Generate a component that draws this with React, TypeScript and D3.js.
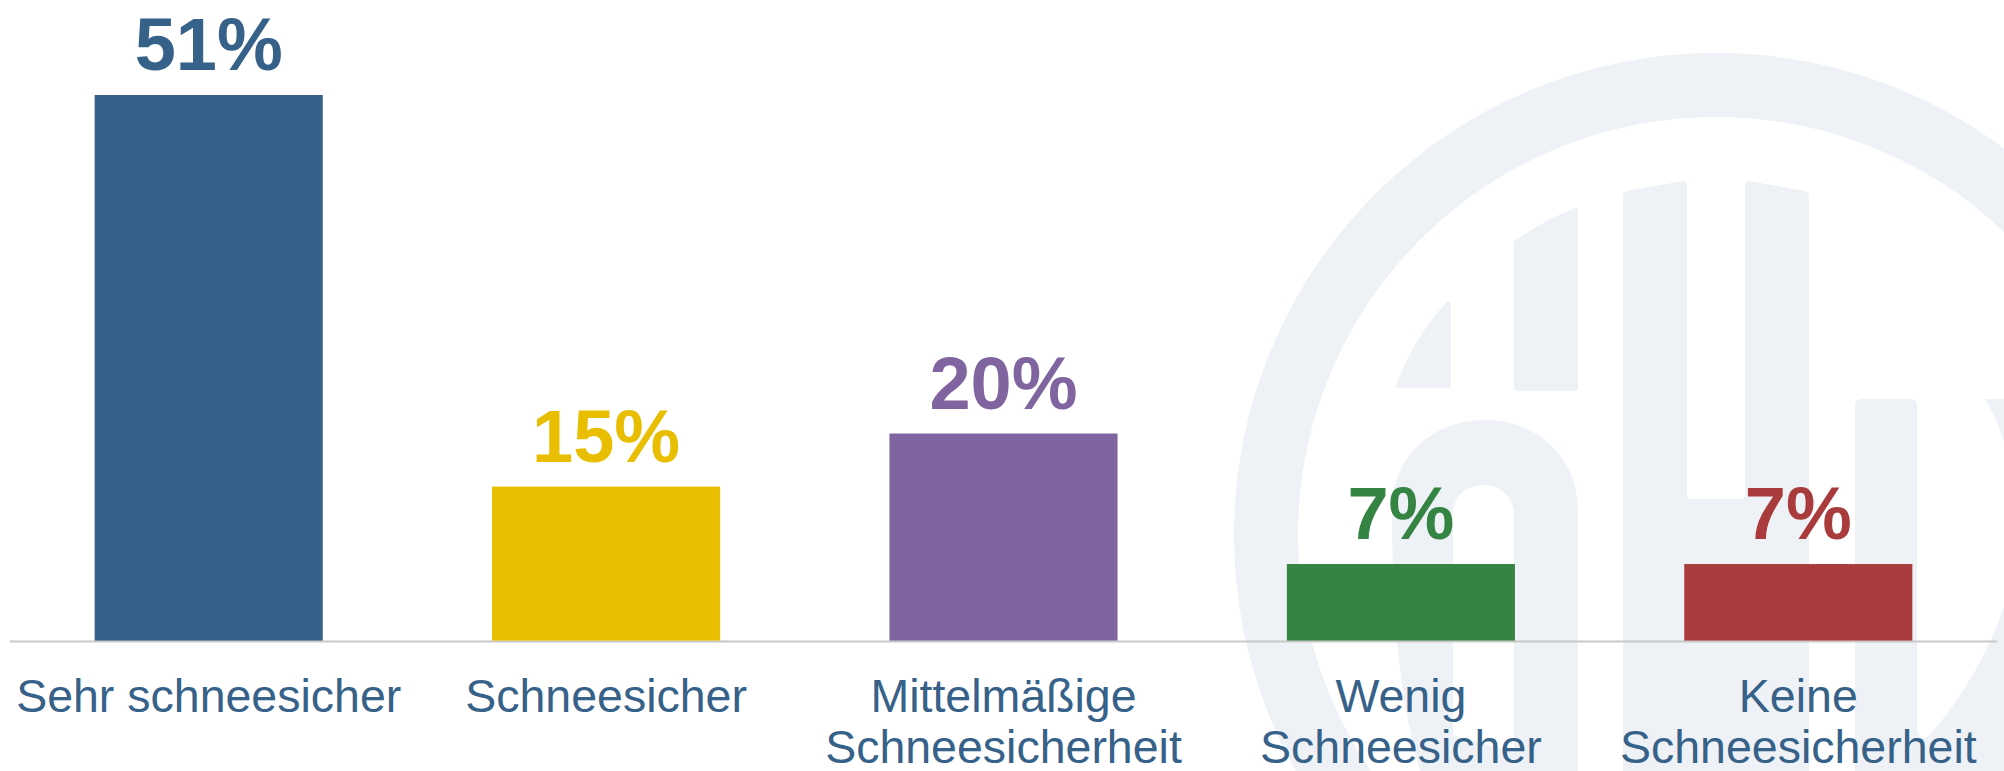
import React from "react";
import * as d3 from "d3";

const categories = ["Sehr schneesicher", "Schneesicher", "Mittelmäßige Schneesicherheit", "Wenig Schneesicher", "Keine Schneesicherheit"];
const categoryLines = [["Sehr schneesicher"], ["Schneesicher"], ["Mittelmäßige", "Schneesicherheit"], ["Wenig", "Schneesicher"], ["Keine", "Schneesicherheit"]];
const values = [51.5, 14.6, 19.6, 7.3, 7.3];
const valueLabels = ["51%", "15%", "20%", "7%", "7%"];
const colors = ["#366188", "#E9BE00", "#8064A0", "#358443", "#AA3B3C"];

const W = 2004;
const H = 771;
const baseY = 641.5;

export default function App() {
  const x = d3.scaleBand<string>().domain(categories).range([10, 1997]).paddingInner(0.426).paddingOuter(0.213);
  const y = d3.scaleLinear().domain([0, 51.5]).range([baseY, 95]);
  const wm = "#EEF2F6";
  const font = "'Liberation Sans', Arial, sans-serif";

  return (
    <svg width={W} height={H} style={{ position: "absolute", left: 0, top: 0, background: "#fff" }} fontFamily={font}>
      {/* watermark */}
      <g fill={wm}>
        <circle cx={1716} cy={535} r={450} fill="none" stroke={wm} strokeWidth={64} />
        <path d="M1395,388 Q1415,335 1447,302 Q1451,300 1451,306 L1451,385 Q1451,388 1448,388 Z" />
        <path d="M1514,241 Q1545,220 1575,208 Q1578,207 1578,211 L1578,388 Q1578,391 1575,391 L1517,391 Q1514,391 1514,388 Z" />
        <path fillRule="evenodd" d="M1420,771 C1400,700 1392,620 1392,510 C1392,455 1435,420 1485,420 C1535,420 1578,455 1578,510 L1578,771 Z M1453,735 L1453,515 C1453,495 1468,485 1483,485 C1499,485 1514,495 1514,515 L1514,752 Z" />
        <path d="M1623,771 L1623,195 Q1623,192 1627,191 L1683,181 Q1687,181 1687,185 L1687,495 Q1687,499 1691,499 L1741,499 Q1745,499 1745,495 L1745,185 Q1745,181 1749,181 L1805,191 Q1809,192 1809,195 L1809,771 Z" />
        <path d="M1855,771 L1855,405 Q1855,399 1861,399 L1911,399 Q1917,399 1917,405 L1917,728 Q1919,745 1930,735 Q2010,640 2020,530 Q2015,450 1985,399 L2010,399 L2010,771 Z" />
      </g>
      {/* axis */}
      <line x1={10} x2={1997} y1={baseY} y2={baseY} stroke="#C8C8C8" strokeWidth={1.8} />
      {categories.map((c, i) => {
        const bx = x(c)!;
        const bw = x.bandwidth();
        const cx = bx + bw / 2;
        const top = y(values[i]);
        return (
          <g key={c}>
            <rect x={bx} y={top} width={bw} height={baseY - 0.9 - top} fill={colors[i]} />
            <text x={cx} y={top - 25} textAnchor="middle" fontWeight="bold" fontSize={74} fill={colors[i]}>
              {valueLabels[i]}
            </text>
            {categoryLines[i].map((ln, j) => (
              <text key={j} x={cx} y={712 + j * 51} textAnchor="middle" fontSize={46.5} fill="#366188">
                {ln}
              </text>
            ))}
          </g>
        );
      })}
    </svg>
  );
}
